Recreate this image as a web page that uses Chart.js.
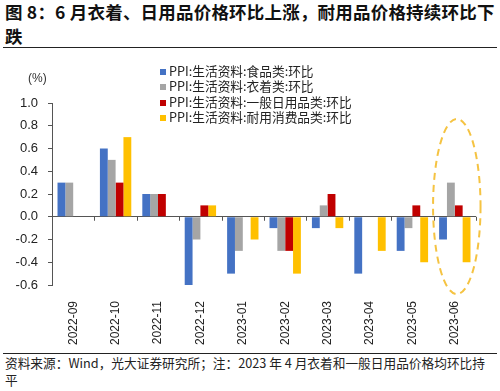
<!DOCTYPE html>
<html>
<head>
<meta charset="utf-8">
<script src="https://cdn.jsdelivr.net/npm/chart.js@4"></script>
<style>
    body { margin: 0; width: 500px; height: 391px; background: #fff; position: relative; overflow: hidden;
           font-family: "Noto Sans CJK SC", "Noto Sans", sans-serif; }
    #title { position: absolute; left: 5px; top: 0; width: 492px; font-size: 17.5px; font-weight: bold;
             line-height: 24px; color: #111; letter-spacing: 0.2px; }
    #rule-top { position: absolute; left: 3px; top: 47px; width: 494px; height: 0; border-top: 1.5px solid #222; }
    #chart { position: absolute; left: 0; top: 50px; }
    #unit { position: absolute; left: 28px; top: 71px; font-size: 12px; color: #333; font-family: "Liberation Sans", sans-serif; }
    #legend { position: absolute; left: 160px; top: 63px; font-size: 12.7px; color: #222; line-height: 15.3px; }
    #legend .item { white-space: nowrap; }
    #legend .box { display: inline-block; width: 6px; height: 6px; margin-right: 3px; vertical-align: 1px; }
    #rule-bottom { position: absolute; left: 3px; top: 353px; width: 494px; height: 0; border-top: 1px solid #222; }
    #source { position: absolute; left: 5px; top: 354px; width: 487px; font-size: 12.7px; line-height: 17px; color: #222; }
</style>
</head>
<body>
<div id="title">图 8：6 月衣着、日用品价格环比上涨，耐用品价格持续环比下跌</div>
<div id="rule-top"></div>
<canvas id="chart" width="500" height="300"></canvas>
<div id="unit">(%)</div>
<div id="legend"></div>
<div id="rule-bottom"></div>
<div id="source">资料来源：Wind，光大证券研究所；注：2023 年 4 月衣着和一般日用品价格均环比持平</div>

<script>
const months = ['2022-09', '2022-10', '2022-11', '2022-12', '2023-01', '2023-02', '2023-03', '2023-04', '2023-05', '2023-06'];
const seriesNames = ['PPI:生活资料:食品类:环比', 'PPI:生活资料:衣着类:环比', 'PPI:生活资料:一般日用品类:环比', 'PPI:生活资料:耐用消费品类:环比'];
const foodValues     = [0.3, 0.6, 0.2, -0.6, -0.5, -0.1, -0.1, -0.5, -0.3, -0.2];
const clothingValues = [0.3, 0.5, 0.2, -0.2, -0.3, -0.3, 0.1, 0.0, -0.1, 0.3];
const dailyValues    = [0.0, 0.3, 0.2, 0.1, 0.0, -0.3, 0.2, 0.0, 0.1, 0.1];
const durableValues  = [0.0, 0.7, 0.0, 0.1, -0.2, -0.5, -0.1, -0.3, -0.4, -0.4];
const yTicks = [1.0, 0.8, 0.6, 0.4, 0.2, 0.0, -0.2, -0.4, -0.6];

const colors = ['#4472C4', '#A5A5A5', '#C00000', '#FFC000'];
const allValues = [foodValues, clothingValues, dailyValues, durableValues];

// legend as plain html, one item per row
document.getElementById('legend').innerHTML = seriesNames.map((name, i) => `
    <div class="item"><span class="box" style="background:${colors[i]}"></span>${name}</div>
`).join('');

// zero line tick marks at category boundaries + dashed highlight around the last month
const extras = {
    id: 'extras',
    afterDatasetsDraw(chart) {
        const { ctx, scales: { x, y } } = chart;
        const zero = y.getPixelForValue(0);
        ctx.save();
        ctx.strokeStyle = '#555';
        ctx.lineWidth = 1;
        for (let i = 1; i <= months.length; i++) {
            const px = i < months.length
                ? (x.getPixelForValue(i - 1) + x.getPixelForValue(i)) / 2
                : chart.chartArea.right;
            ctx.beginPath();
            ctx.moveTo(Math.round(px) + 0.5, zero);
            ctx.lineTo(Math.round(px) + 0.5, zero + 4);
            ctx.stroke();
        }

        const last = months.length - 1;
        const step = x.getPixelForValue(1) - x.getPixelForValue(0);
        const cx = x.getPixelForValue(last) + 2;
        const top = y.getPixelForValue(0.86);
        const bottom = y.getPixelForValue(-0.68);
        ctx.strokeStyle = '#F5C342';
        ctx.lineWidth = 2;
        ctx.setLineDash([7, 5]);
        ctx.beginPath();
        ctx.ellipse(cx, (top + bottom) / 2, step * 0.56, (bottom - top) / 2, 0, 0, Math.PI * 2);
        ctx.stroke();
        ctx.restore();
    }
};

new Chart(document.getElementById('chart'), {
    type: 'bar',
    data: {
        labels: months,
        datasets: seriesNames.map((name, i) => ({
            label: name,
            data: allValues[i],
            backgroundColor: colors[i],
            borderWidth: 0,
            barPercentage: 1.0,
            categoryPercentage: 0.74
        }))
    },
    options: {
        responsive: false,
        animation: false,
        layout: { padding: { top: 53, right: 24, left: 0, bottom: 0 } },
        plugins: {
            legend: { display: false },
            tooltip: { enabled: false }
        },
        scales: {
            x: {
                grid: { display: false },
                border: { display: false },
                ticks: {
                    color: '#222',
                    font: { family: 'Liberation Sans', size: 12 },
                    minRotation: 90,
                    maxRotation: 90,
                    padding: 8
                },
                afterFit(scale) { scale.height = 65; }
            },
            y: {
                min: -0.6,
                max: 1.0,
                afterBuildTicks(scale) { scale.ticks = yTicks.map(v => ({ value: v })); },
                grid: {
                    drawOnChartArea: true,
                    color: c => (c.tick && Math.abs(c.tick.value) < 1e-9 ? '#555' : 'rgba(0,0,0,0)'),
                    tickColor: '#555',
                    tickLength: 4
                },
                border: { display: true, color: '#555' },
                ticks: {
                    color: '#222',
                    font: { family: 'Liberation Sans', size: 13 },
                    padding: 10,
                    callback: v => Number(v).toFixed(1)
                },
                afterFit(scale) { scale.width = 52; }
            }
        }
    },
    plugins: [extras]
});
</script>
</body>
</html>
